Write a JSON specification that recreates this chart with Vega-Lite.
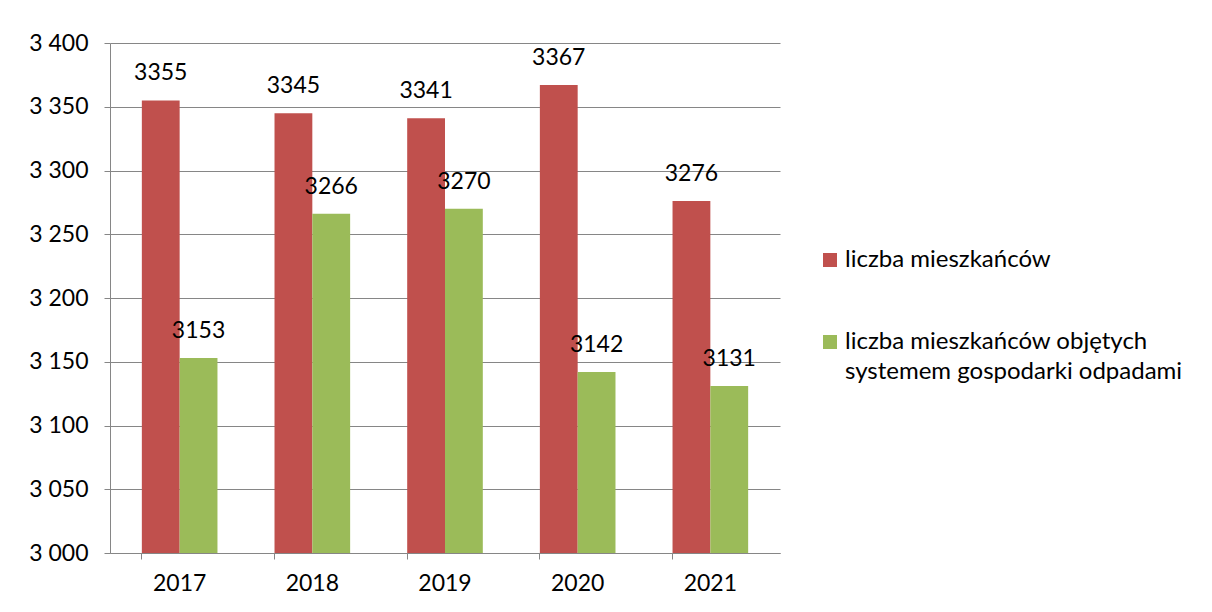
{
  "$schema": "https://vega.github.io/schema/vega-lite/v6.json",
  "autosize": {"type": "none"},
  "width": 670,
  "height": 510,
  "padding": {"left": 110, "top": 43, "right": 432, "bottom": 59},
  "background": "white",
  "data": {
    "values": [
      {"rok": "2017", "seria": "liczba mieszkańców", "wartosc": 3355},
      {"rok": "2017", "seria": "liczba mieszkańców objętych systemem gospodarki odpadami", "wartosc": 3153},
      {"rok": "2018", "seria": "liczba mieszkańców", "wartosc": 3345},
      {"rok": "2018", "seria": "liczba mieszkańców objętych systemem gospodarki odpadami", "wartosc": 3266},
      {"rok": "2019", "seria": "liczba mieszkańców", "wartosc": 3341},
      {"rok": "2019", "seria": "liczba mieszkańców objętych systemem gospodarki odpadami", "wartosc": 3270},
      {"rok": "2020", "seria": "liczba mieszkańców", "wartosc": 3367},
      {"rok": "2020", "seria": "liczba mieszkańców objętych systemem gospodarki odpadami", "wartosc": 3142},
      {"rok": "2021", "seria": "liczba mieszkańców", "wartosc": 3276},
      {"rok": "2021", "seria": "liczba mieszkańców objętych systemem gospodarki odpadami", "wartosc": 3131}
    ]
  },
  "encoding": {
    "x": {
      "field": "rok", "type": "nominal", "title": null,
      "scale": {"paddingInner": 0.43, "paddingOuter": 0.24},
      "axis": {
        "labelAngle": 0, "bandPosition": 0, "tickSize": 6, "labelPadding": 13,
        "domainColor": "#868686", "tickColor": "#868686", "grid": false
      }
    },
    "xOffset": {"field": "seria", "type": "nominal", "scale": {"paddingInner": 0, "paddingOuter": 0}},
    "y": {
      "field": "wartosc", "type": "quantitative", "title": null,
      "scale": {"domain": [3000, 3400], "zero": false, "nice": false},
      "axis": {
        "values": [3000, 3050, 3100, 3150, 3200, 3250, 3300, 3350, 3400],
        "labelExpr": "replace(format(datum.value, ','), ',', ' ')",
        "tickSize": 6, "labelPadding": 16,
        "domainColor": "#868686", "tickColor": "#868686", "gridColor": "#868686"
      }
    }
  },
  "layer": [
    {
      "mark": {"type": "bar", "clip": true},
      "encoding": {
        "color": {
          "field": "seria", "type": "nominal", "title": null,
          "scale": {"domain": ["liczba mieszkańców", "liczba mieszkańców objętych systemem gospodarki odpadami"], "range": ["#C0504D", "#9BBB59"]},
          "legend": {
            "orient": "none", "legendX": 708, "legendY": 205,
            "symbolType": "square", "symbolSize": 196, "symbolStrokeWidth": 0,
            "labelLimit": 400, "rowPadding": 58, "labelOffset": 3,
            "labelExpr": "datum.label == 'liczba mieszkańców' ? datum.label : ['liczba mieszkańców objętych', 'systemem gospodarki odpadami']"
          }
        }
      }
    },
    {
      "mark": {"type": "text", "dy": -27, "fontSize": 23, "font": "Lato", "color": "black"},
      "encoding": {"text": {"field": "wartosc", "type": "quantitative", "format": "d"}}
    }
  ],
  "config": {
    "font": "Lato",
    "view": {"stroke": null},
    "axis": {"labelFontSize": 23, "labelColor": "black", "labelFont": "Lato"},
    "legend": {"labelFontSize": 24, "labelColor": "black", "labelFont": "Lato"},
    "style": {"guide-label": {"lineHeight": 30}}
  }
}
